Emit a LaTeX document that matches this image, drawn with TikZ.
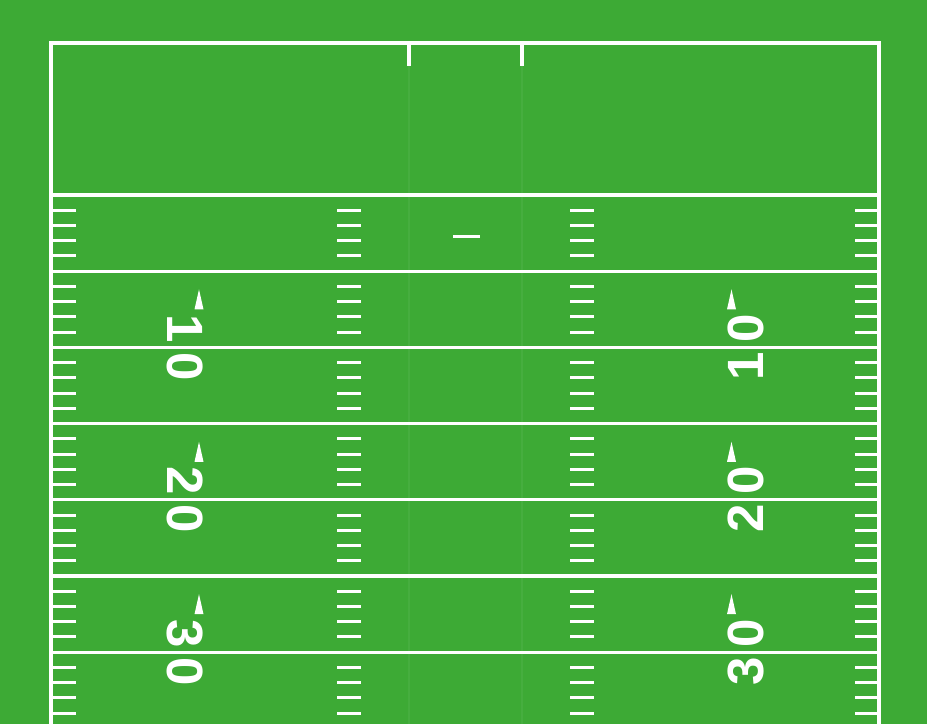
\documentclass[tikz,border=0pt]{standalone}
\usepackage{fontspec}
\setmainfont{Liberation Sans}
\definecolor{turf}{RGB}{61,170,53}
\begin{document}
\begin{tikzpicture}[x=1pt,y=-1pt,
  fieldline/.style={white, line width=3.3pt},
  tickline/.style={white, line width=3pt},
  stripe/.style={white, opacity=0.05, line width=2pt},
  yardnum/.style={text=white, inner sep=0pt, font=\fontsize{51}{51}\selectfont\bfseries},
  arrowmark/.style={fill=white}]
\fill[turf] (0,0) rectangle (927,724);
\useasboundingbox (0,0) rectangle (927,724);
\begin{scope}
\clip (0,0) rectangle (927,724);
% faint centre stripes
\draw[stripe] (409,43) -- (409,724);
\draw[stripe] (522,43) -- (522,724);
% boundary
\draw[fieldline, line cap=rect] (51,760) -- (51,43) -- (879,43) -- (879,760);
% goal line
\draw[fieldline] (51,195) -- (879,195);
% goal post ticks
\draw[fieldline] (409,43) -- (409,66);
\draw[fieldline] (522,43) -- (522,66);
% PAT mark
\draw[tickline] (453,236) -- (480,236);
% yard lines and ticks
\foreach \k in {1,...,35}{
  \pgfmathtruncatemacro{\r}{mod(\k,5)}
  \pgfmathsetmacro{\yy}{195+15.24*\k}
  \ifnum\r=0
    \draw[fieldline] (51,\yy) -- (879,\yy);
  \else
    \draw[tickline] (53,\yy) -- (76,\yy);
    \draw[tickline] (855,\yy) -- (877,\yy);
    \draw[tickline] (337,\yy) -- (361,\yy);
    \draw[tickline] (570,\yy) -- (594,\yy);
  \fi
}
% numbers and direction arrows
\foreach \n/\ly in {1/347.4, 2/499.8, 3/652.2}{
  \fill[arrowmark] (199,\ly-58) -- (203.5,\ly-38) -- (194.5,\ly-38) -- cycle;
  \fill[arrowmark] (731.5,\ly-58) -- (736,\ly-38) -- (727,\ly-38) -- cycle;
  \node[yardnum, rotate=-90] (l\n a) at (185,\ly-19) {\n};
  \node[yardnum, rotate=-90] (l\n b) at (185,\ly+19) {0};
  \node[yardnum, rotate=90] (r\n a) at (746,\ly+19) {\n};
  \node[yardnum, rotate=90] (r\n b) at (746,\ly-19) {0};
}
\end{scope}
\end{tikzpicture}
\end{document}
